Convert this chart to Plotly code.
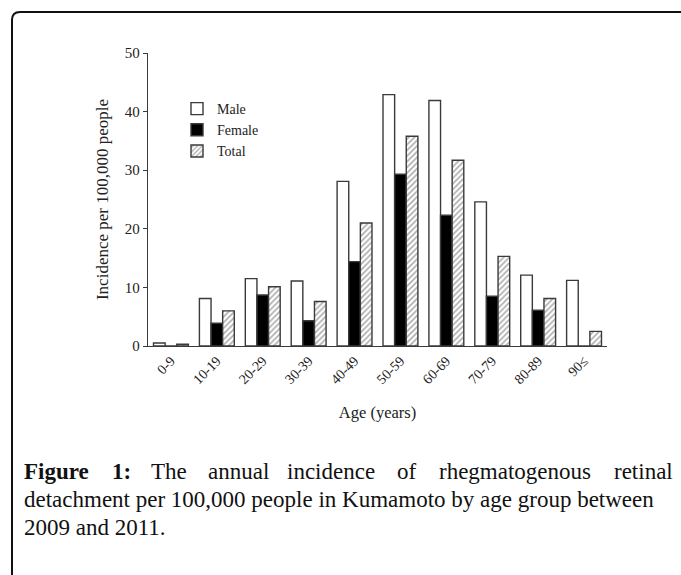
import plotly.graph_objects as go

# Age groups and annual incidence per 100,000 people
age_groups = ["0-9", "10-19", "20-29", "30-39", "40-49",
              "50-59", "60-69", "70-79", "80-89", "90\u2264"]
male = [0.5, 8.1, 11.5, 11.1, 28.1, 42.9, 41.9, 24.6, 12.1, 11.2]
female = [0.0, 3.9, 8.7, 4.3, 14.4, 29.3, 22.3, 8.5, 6.1, 0.0]
total = [0.3, 6.0, 10.1, 7.6, 21.0, 35.8, 31.7, 15.3, 8.1, 2.5]

y_ticks = [0, 10, 20, 30, 40, 50]

W, H = 681, 575
L, R, T, B = 148, 607, 53, 346  # plot area in pixels

SERIF = "Liberation Serif, Times New Roman, serif"
EDGE = "#3a3a3a"
TEXT = "#222222"


def px(x):
    return (x - L) / (R - L)


def py(y):
    return (B - y) / (B - T)


fig = go.Figure()
fig.add_trace(go.Bar(
    x=age_groups, y=male, name="Male",
    marker=dict(color="white", line=dict(color=EDGE, width=1.4)),
))
fig.add_trace(go.Bar(
    x=age_groups, y=female, name="Female",
    marker=dict(color="black", line=dict(color=EDGE, width=1.4)),
))
fig.add_trace(go.Bar(
    x=age_groups, y=total, name="Total",
    marker=dict(
        color="white",
        line=dict(color=EDGE, width=1.4),
        pattern=dict(shape="/", fgcolor="#555555", bgcolor="white",
                     size=4, solidity=0.38),
    ),
))

fig.update_layout(
    width=W, height=H,
    margin=dict(l=L, r=W - R, t=T, b=H - B, pad=0),
    paper_bgcolor="white", plot_bgcolor="white",
    barmode="group", bargap=0.24, bargroupgap=0,
    font=dict(family=SERIF, size=14, color=TEXT),
    showlegend=True,
    legend=dict(
        x=px(177), y=py(93), xanchor="left", yanchor="top",
        bgcolor="rgba(0,0,0,0)", font=dict(family=SERIF, size=14, color=TEXT),
        tracegroupgap=0, itemwidth=30,
    ),
    xaxis=dict(
        showline=True, linecolor=EDGE, linewidth=1.4,
        ticks="", tickangle=-45, showgrid=False, zeroline=False,
        tickfont=dict(family=SERIF, size=14, color=TEXT),
        title=dict(text="Age (years)", font=dict(family=SERIF, size=16.5, color=TEXT),
                   standoff=20),
    ),
    yaxis=dict(
        range=[0, 50], tickvals=y_ticks, showline=True, linecolor=EDGE,
        linewidth=1.4, ticks="outside", ticklen=4, tickcolor=EDGE, tickwidth=1.4,
        showgrid=False, zeroline=False,
        tickfont=dict(family=SERIF, size=15, color=TEXT),
        title=dict(text="Incidence per 100,000 people",
                   font=dict(family=SERIF, size=17, color=TEXT), standoff=11),
    ),
)

# Rounded frame around the figure and its caption
rad = 8
fig.add_shape(
    type="path", xref="paper", yref="paper",
    path=(f"M {px(12)},{py(H + 20)} L {px(12)},{py(12 + rad)} "
          f"Q {px(12)},{py(12)} {px(12 + rad)},{py(12)} L {px(W + 20)},{py(12)}"),
    line=dict(color="#111111", width=2), layer="above",
)

# Caption; the first line is justified with equal gaps between words
CAP_SIZE = 23
CAP_FONT = dict(family=SERIF, size=CAP_SIZE, color="#111111")
line1_words = ["<b>Figure</b>", "<b>1:</b>", "The", "annual", "incidence",
               "of", "rhegmatogenous", "retinal"]
line1_widths = [66, 18, 35, 58, 88, 21, 156, 60]  # approximate widths at CAP_SIZE
left_edge, right_edge = 22, 675
gap = (right_edge - left_edge - sum(line1_widths)) / (len(line1_words) - 1)
cursor = left_edge
for i, (word, w) in enumerate(zip(line1_words, line1_widths)):
    last = i == len(line1_words) - 1
    fig.add_annotation(
        text=word, x=px(right_edge if last else cursor), y=py(471),
        xref="paper", yref="paper", xanchor="right" if last else "left",
        yanchor="middle", showarrow=False, font=CAP_FONT,
    )
    cursor += w + gap
for txt, ypos in [("detachment per 100,000 people in Kumamoto by age group between", 499),
                  ("2009 and 2011.", 527)]:
    fig.add_annotation(
        text=txt, x=px(left_edge), y=py(ypos), xref="paper", yref="paper",
        xanchor="left", yanchor="middle", showarrow=False, font=CAP_FONT,
    )

fig.write_html("out.html")
